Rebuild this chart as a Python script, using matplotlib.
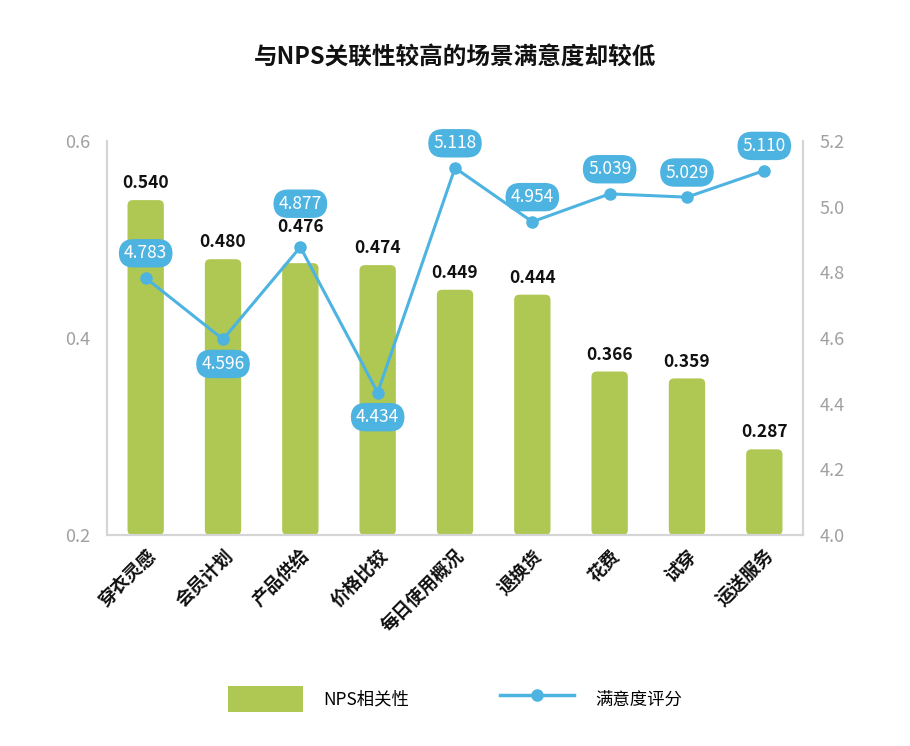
import matplotlib
matplotlib.use('Agg')
import matplotlib.pyplot as plt
from matplotlib.patches import FancyBboxPatch, Patch
from matplotlib.lines import Line2D
import numpy as np

plt.rcParams['font.family'] = ['Noto Sans CJK SC', 'DejaVu Sans']

CATEGORIES = ['穿衣灵感', '会员计划', '产品供给', '价格比较', '每日使用概况',
              '退换货', '花费', '试穿', '运送服务']
NPS_CORR = [0.540, 0.480, 0.476, 0.474, 0.449, 0.444, 0.366, 0.359, 0.287]
SATISFACTION = [4.783, 4.596, 4.877, 4.434, 5.118, 4.954, 5.039, 5.029, 5.110]
# label above (+1) or below (-1) the point
LABEL_SIDE = [1, -1, 1, -1, 1, 1, 1, 1, 1]

GREEN = '#AEC853'
BLUE = '#4DB3E0'
GRAY = '#A0A0A0'
SPINE = '#D5D5D5'

fig = plt.figure(figsize=(9.10, 7.46), dpi=100)
ax = fig.add_axes([0.1176, 0.2828, 0.7648, 0.5282])
ax2 = ax.twinx()

x = np.arange(len(CATEGORIES))
bar_w = 0.47
ax.set_ylim(0.2, 0.6)
ax.set_xlim(-0.5, len(CATEGORIES) - 0.5)
for xi, v in zip(x, NPS_CORR):
  box = FancyBboxPatch((xi - bar_w / 2, 0.2), bar_w, v - 0.2,
                       boxstyle='round,pad=0,rounding_size=0.07',
                       mutation_aspect=0.075,
                       facecolor=GREEN, edgecolor='none', zorder=2)
  ax.add_patch(box)
  # the label sitting on the line marker is nudged up, as in the original
  lift = 0.02 if xi == 2 else 0.0
  ax.text(xi, v + 0.008 + lift, f'{v:.3f}', ha='center', va='bottom',
          fontsize=12.5, fontweight='bold', color='#111111', zorder=3)

ax2.set_ylim(4.0, 5.2)
ax2.plot(x, SATISFACTION, '-o', color=BLUE, linewidth=2.2,
         markersize=8, zorder=4)
for xi, v, s in zip(x, SATISFACTION, LABEL_SIDE):
  gap = 0.132 if xi == 2 else 0.075
  ax2.text(xi, v + s * gap, f'{v:.3f}', ha='center', va='center',
           fontsize=12.5, color='white', zorder=5,
           bbox=dict(boxstyle='round,pad=0.3,rounding_size=0.85',
                     facecolor=BLUE, edgecolor='none'))

ax.set_yticks([0.2, 0.4, 0.6])
ax.set_yticklabels(['0.2', '0.4', '0.6'])
ax2.set_yticks([4.0, 4.2, 4.4, 4.6, 4.8, 5.0, 5.2])
ax2.set_yticklabels([f'{t:.1f}' for t in [4.0, 4.2, 4.4, 4.6, 4.8, 5.0, 5.2]])
ax.set_xticks(x)
ax.set_xticklabels(CATEGORIES, rotation=45, ha='right',
                   rotation_mode='anchor', fontsize=13,
                   fontweight='bold', color='#111111')

for a in (ax, ax2):
  a.tick_params(axis='y', length=0, pad=12, labelsize=13,
                labelcolor=GRAY)
  a.tick_params(axis='x', length=0, pad=8)
  a.spines['top'].set_visible(False)
  for side in ('left', 'right', 'bottom'):
    a.spines[side].set_color(SPINE)
    a.spines[side].set_linewidth(1.5)

fig.text(0.5, 0.924, '与NPS关联性较高的场景满意度却较低', ha='center',
         va='center', fontsize=17, fontweight='bold', color='#111111')

handles = [Patch(facecolor=GREEN, edgecolor='none'),
           Line2D([0], [0], color=BLUE, linewidth=2.5, marker='o',
                  markersize=8)]
fig.legend(handles, ['NPS相关性', '满意度评分'], loc='center',
           bbox_to_anchor=(0.5, 0.063), ncol=2, frameon=False,
           fontsize=12.5, handlelength=4.3, handleheight=2.0,
           columnspacing=5.2, handletextpad=1.2)

fig.savefig('out.png', dpi=100)
